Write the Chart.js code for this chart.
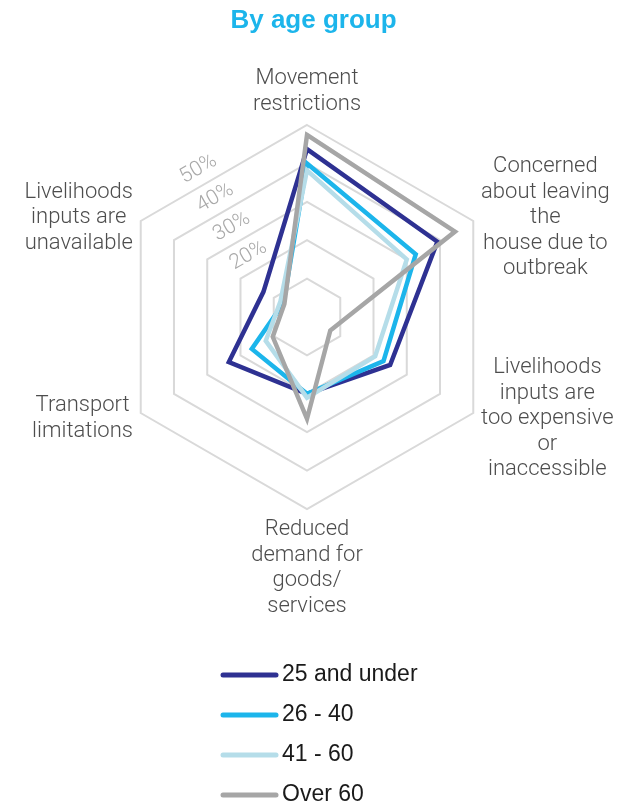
<!DOCTYPE html>
<html>
<head>
<meta charset="utf-8">
<title>By age group</title>
<script src="https://cdn.jsdelivr.net/npm/chart.js@4.4.1/dist/chart.umd.min.js"></script>
<style>
  html, body { margin: 0; padding: 0; background: #ffffff; }
  #wrap { position: relative; width: 627px; height: 806px; }
</style>
</head>
<body>
<div id="wrap"><canvas id="radar"></canvas></div>
<script>
const chartTitle = 'By age group';

// Axis categories, clockwise from the top (multi-line labels)
const categories = [
  ['Movement', 'restrictions'],
  ['Concerned', 'about leaving', 'the', 'house due to', 'outbreak'],
  ['Livelihoods', 'inputs are', 'too expensive', 'or', 'inaccessible'],
  ['Reduced', 'demand for', 'goods/', 'services'],
  ['Transport', 'limitations'],
  ['Livelihoods', 'inputs are', 'unavailable']
];

// Share of respondents (%) per age group
const seriesNames = ['25 and under', '26 - 40', '41 - 60', 'Over 60'];
const age25Under = [43.7, 39.2, 25.0, 20.0, 23.5, 13.1];
const age26to40  = [40.0, 32.7, 23.0, 20.0, 16.6, 7.1];
const age41to60  = [38.2, 30.0, 20.5, 21.0, 12.4, 8.0];
const ageOver60  = [47.4, 44.5, 7.0, 26.5, 10.3, 6.8];

// Ring labels shown along the upper-left edge
const tickValues = [20, 30, 40, 50];
const tickLabels = ['20%', '30%', '40%', '50%'];

const colors = ['#2e3192', '#1cb5eb', '#b5dde9', '#a6a6a6'];
const FONT = "'Liberation Sans', Arial, Helvetica, sans-serif";
const LIGHT_FONT = "Roboto, 'Liberation Sans', Arial, sans-serif";

// Heading centred across the full canvas width
const heading = {
  id: 'heading',
  afterDraw(chart) {
    const ctx = chart.ctx;
    ctx.save();
    ctx.font = 'bold 26px ' + FONT;
    ctx.fillStyle = '#1cb5eb';
    ctx.textAlign = 'center';
    ctx.textBaseline = 'middle';
    ctx.fillText(chartTitle, chart.width / 2, 21);
    ctx.restore();
  }
};

// Rotated percentage labels sitting just outside each ring
const ringLabels = {
  id: 'ringLabels',
  afterDraw(chart) {
    const s = chart.scales.r;
    const ctx = chart.ctx;
    const ux = Math.cos(-Math.PI / 6), uy = Math.sin(-Math.PI / 6);
    const nx = -0.5, ny = -Math.sqrt(3) / 2;
    ctx.save();
    ctx.font = '300 21px ' + LIGHT_FONT;
    ctx.fillStyle = '#a9a9a9';
    ctx.textAlign = 'center';
    ctx.textBaseline = 'middle';
    tickValues.forEach((v, i) => {
      const r = s.getDistanceFromCenterForValue(v);
      const mx = s.xCenter - r * Math.sqrt(3) / 4;
      const my = s.yCenter - r * 0.75;
      const px = mx - 20 * ux + 16 * nx;
      const py = my - 20 * uy + 16 * ny;
      ctx.save();
      ctx.translate(px, py);
      ctx.rotate(-Math.PI / 6);
      ctx.fillText(tickLabels[i], 0, 0);
      ctx.restore();
    });
    ctx.restore();
  }
};

// Category labels: multi-line blocks with centred lines
const axisLabels = {
  id: 'axisLabels',
  afterDraw(chart) {
    const s = chart.scales.r;
    const ctx = chart.ctx;
    const lh = 25.5;
    ctx.save();
    ctx.font = '300 22px ' + LIGHT_FONT;
    ctx.fillStyle = '#4d4d4d';
    ctx.textAlign = 'center';
    ctx.textBaseline = 'middle';
    chart.data.labels.forEach((lines, i) => {
      const p = s.getPointPosition(i, s.drawingArea + 9);
      const widths = lines.map(t => ctx.measureText(t).width);
      const bw = Math.max(...widths);
      const bh = lines.length * lh;
      const dx = p.x - s.xCenter;
      let cx, top;
      if (Math.abs(dx) < 2) {
        cx = p.x;
        top = p.y < s.yCenter ? p.y + 1 - bh : p.y - 1;
      } else {
        cx = dx > 0 ? p.x + bw / 2 : p.x - bw / 2;
        top = p.y + 1 - bh / 2;
      }
      lines.forEach((t, k) => ctx.fillText(t, cx, top + (k + 0.5) * lh));
    });
    ctx.restore();
  }
};

// Vertical legend below the chart
const stackedLegend = {
  id: 'stackedLegend',
  afterDraw(chart) {
    const ctx = chart.ctx;
    ctx.save();
    ctx.font = '23px ' + FONT;
    ctx.fillStyle = '#1a1a1a';
    ctx.textAlign = 'left';
    ctx.textBaseline = 'middle';
    chart.data.datasets.forEach((ds, i) => {
      const y = 675 + i * 40;
      ctx.beginPath();
      ctx.strokeStyle = ds.borderColor;
      ctx.lineWidth = 5;
      ctx.lineCap = 'round';
      ctx.moveTo(223, y);
      ctx.lineTo(276, y);
      ctx.stroke();
      ctx.fillText(ds.label, 282, y);
    });
    ctx.restore();
  }
};

const seriesData = [age25Under, age26to40, age41to60, ageOver60];

new Chart(document.getElementById('radar'), {
  type: 'radar',
  data: {
    labels: categories,
    datasets: seriesData.map((vals, i) => ({
      label: seriesNames[i],
      data: vals,
      borderColor: colors[i],
      backgroundColor: 'transparent',
      borderWidth: 4.5,
      borderJoinStyle: 'miter',
      pointRadius: 0,
      pointHoverRadius: 0,
      fill: false,
      order: seriesData.length - i
    }))
  },
  options: {
    responsive: true,
    maintainAspectRatio: false,
    animation: false,
    layout: { padding: { left: 115, right: 128, top: 125, bottom: 297 } },
    plugins: {
      legend: { display: false },
      tooltip: { enabled: false },
      title: { display: false }
    },
    scales: {
      r: {
        min: 0,
        max: 50,
        ticks: { stepSize: 10, display: false },
        grid: { circular: false, color: '#d9d9d9', lineWidth: 2 },
        angleLines: { display: false },
        pointLabels: { display: false }
      }
    }
  },
  plugins: [heading, ringLabels, axisLabels, stackedLegend]
});
</script>
</body>
</html>
